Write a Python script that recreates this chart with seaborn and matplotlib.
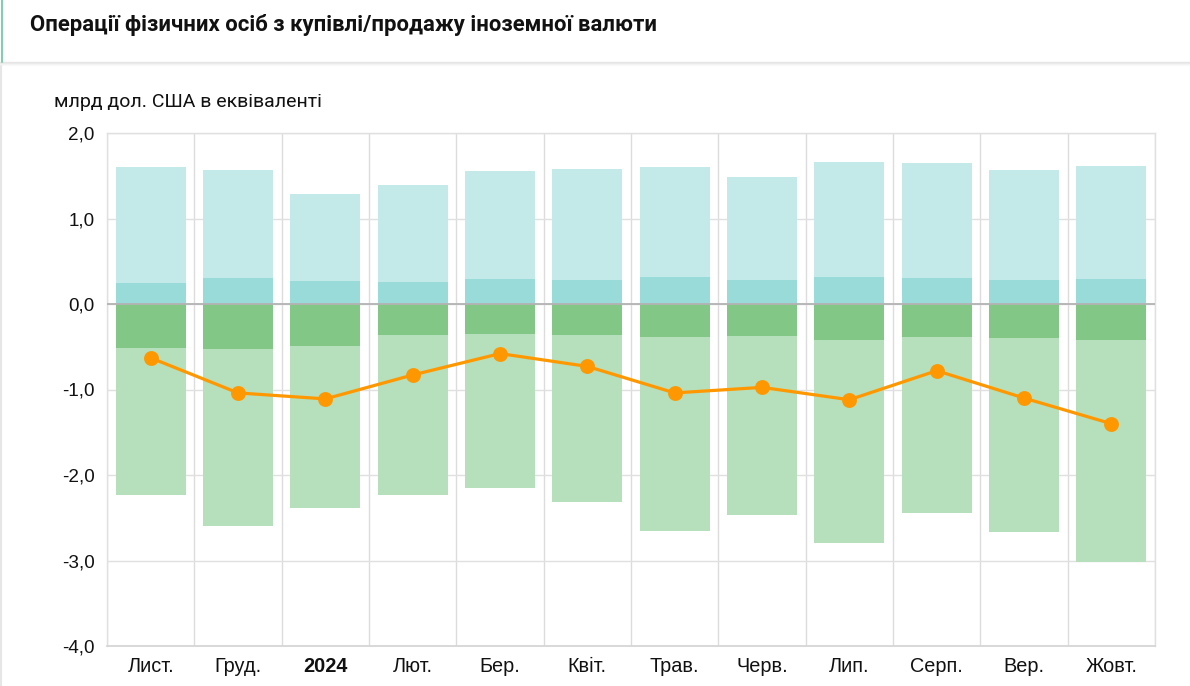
import numpy as np
import matplotlib
matplotlib.use("Agg")
import matplotlib.pyplot as plt
from matplotlib.lines import Line2D
import seaborn as sns

# ---- data (bn USD equivalent) ----
months = ["Лист.", "Груд.", "2024", "Лют.", "Бер.", "Квіт.", "Трав.", "Черв.", "Лип.", "Серп.", "Вер.", "Жовт."]
purchase_total = [1.60, 1.57, 1.29, 1.395, 1.56, 1.575, 1.60, 1.485, 1.66, 1.65, 1.57, 1.61]
purchase_part = [0.25, 0.30, 0.27, 0.26, 0.29, 0.28, 0.315, 0.28, 0.32, 0.30, 0.28, 0.29]
sale_total = [-2.23, -2.60, -2.39, -2.23, -2.15, -2.31, -2.65, -2.47, -2.79, -2.44, -2.67, -3.02]
sale_part = [-0.51, -0.53, -0.495, -0.36, -0.35, -0.36, -0.385, -0.38, -0.42, -0.385, -0.395, -0.42]
net = [-0.63, -1.04, -1.11, -0.83, -0.58, -0.73, -1.04, -0.975, -1.12, -0.78, -1.10, -1.40]
y_ticks = [2.0, 1.0, 0.0, -1.0, -2.0, -3.0, -4.0]
y_tick_labels = ["2,0", "1,0", "0,0", "-1,0", "-2,0", "-3,0", "-4,0"]

title = "Операції фізичних осіб з купівлі/продажу іноземної валюти"
unit_label = "млрд дол. США в еквіваленті"

sns.set_theme(style="white")
plt.rcParams["font.family"] = ["Liberation Sans", "DejaVu Sans"]

W, H = 1190, 686
fig = plt.figure(figsize=(W / 100, H / 100), dpi=100)
fig.patch.set_facecolor("white")

ax = fig.add_axes([107 / W, (H - 646) / H, 1048 / W, 513 / H])

c_light_cyan = "#c3eae8"
c_dark_cyan = "#99dbd9"
c_light_green = "#b6dfbb"
c_dark_green = "#82c785"
c_orange = "#ff9800"

sns.barplot(x=months, y=purchase_total, color=c_light_cyan, width=0.8, saturation=1,
            edgecolor="none", ax=ax, zorder=2)
sns.barplot(x=months, y=purchase_part, color=c_dark_cyan, width=0.8, saturation=1,
            edgecolor="none", ax=ax, zorder=3)
sns.barplot(x=months, y=sale_total, color=c_light_green, width=0.8, saturation=1,
            edgecolor="none", ax=ax, zorder=2)
sns.barplot(x=months, y=sale_part, color=c_dark_green, width=0.8, saturation=1,
            edgecolor="none", ax=ax, zorder=3)

ax.axhline(0, color="#b3b3b3", lw=1.3, zorder=4)

sns.pointplot(x=months, y=net, color=c_orange, markers="o", markersize=9,
              linewidth=2.3, errorbar=None, ax=ax, zorder=5)

ax.set_xlim(-0.5, len(months) - 0.5)
ax.set_ylim(-4, 2)
ax.set_yticks(y_ticks)
ax.set_yticklabels(y_tick_labels)
ax.set_xticks(np.arange(-0.5, len(months), 1), minor=True)
ax.set_xticks(np.arange(len(months)))
ax.set_xticklabels(months)
ax.set_xlabel("")
ax.set_ylabel("")

ax.grid(axis="y", which="major", color="#e0e0e0", lw=1, zorder=0)
ax.grid(axis="x", which="minor", color="#dcdcdc", lw=1, zorder=0)
ax.grid(axis="x", which="major", visible=False)
ax.set_axisbelow(True)

for side in ["top", "right", "left"]:
    ax.spines[side].set_color("#e0e0e0")
    ax.spines[side].set_linewidth(1)
ax.spines["bottom"].set_color("#d6d6d6")
ax.spines["bottom"].set_linewidth(1.3)

ax.tick_params(axis="both", which="both", length=0)
ax.tick_params(axis="y", labelsize=13.6, pad=9, labelcolor="#111111")
ax.tick_params(axis="x", labelsize=14.3, pad=8, labelcolor="#111111")
for lbl in ax.get_xticklabels():
    if lbl.get_text() == "2024":
        lbl.set_fontweight("bold")

# ---- header ----
fig.text(30 / W, 1 - 25 / H, title, fontsize=15.9, fontweight="bold",
         family=["Roboto", "DejaVu Sans"], color="#111111", va="center", ha="left")
# shadow under header
for i, a in enumerate([0.22, 0.14, 0.08, 0.04]):
    fig.add_artist(Line2D([0, 1], [1 - (62 + i) / H] * 2, color="#9a9a9a", alpha=a,
                          lw=1, transform=fig.transFigure))
fig.add_artist(Line2D([1.5 / W, 1.5 / W], [1, 1 - 62 / H], color="#7fcfb0", lw=1.5,
                      transform=fig.transFigure))
fig.add_artist(Line2D([0.8 / W, 0.8 / W], [1 - 66 / H, 0], color="#e6e6e6", lw=1.5,
                      transform=fig.transFigure))

fig.text(54 / W, 1 - 102 / H, unit_label, fontsize=14, family=["Roboto", "DejaVu Sans"],
         color="#111111", va="center", ha="left")

fig.savefig("out.png", dpi=100, facecolor="white")
